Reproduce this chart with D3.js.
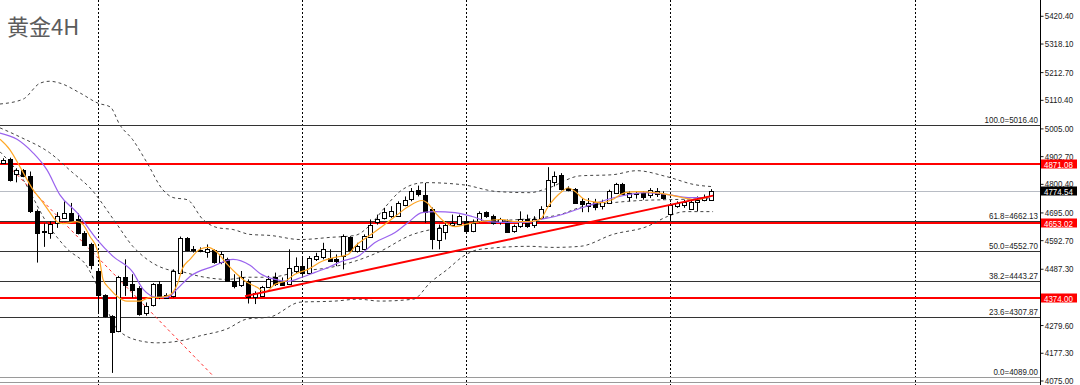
<!DOCTYPE html>
<html>
<head>
<meta charset="utf-8">
<script src="https://cdn.jsdelivr.net/npm/d3@7"></script>
<style>
  body { margin: 0; background: #fff; }
  svg { display: block; font-family: "Liberation Sans", Arial, sans-serif; }
</style>
</head>
<body>
<svg id="chart"></svg>
<script>
// 4H gold candles, one entry per bar
const opens  = [4877,4892,4834,4850,4828,4702,4621,4620,4657,4675,4693,4669,4620,4577,4479,4390,4314,4255,4457,4430,
                4418,4324,4351,4430,4381,4387,4473,4599,4559,4555,4547,4555,4510,4522,4442,4424,4442,4384,4387,4420,
                4455,4440,4433,4478,4497,4473,4522,4528,4528,4522,4534,4604,4552,4559,4607,4657,4675,4681,4683,4724,
                4742,4776,4761,4706,4595,4626,4650,4650,4663,4626,4663,4696,4681,4659,4657,4626,4644,4671,4650,4675,
                4718,4809,4834,4785,4782,4736,4720,4732,4718,4730,4767,4801,4754,4764,4767,4757,4761,4764,4691,4718,
                4724,4708,4736,4742,4742];
const highs  = [4895,4897,4858,4855,4846,4706,4654,4663,4696,4736,4730,4691,4626,4583,4485,4393,4316,4461,4522,4467,
                4423,4363,4434,4442,4397,4485,4606,4604,4571,4566,4577,4559,4551,4528,4467,4479,4448,4404,4424,4461,
                4473,4455,4559,4529,4528,4534,4546,4583,4559,4540,4614,4607,4583,4614,4669,4687,4712,4718,4736,4754,
                4785,4794,4804,4713,4650,4663,4687,4687,4675,4669,4699,4699,4687,4675,4669,4650,4699,4687,4681,4718,
                4862,4846,4840,4791,4785,4748,4748,4745,4742,4779,4804,4804,4773,4773,4773,4785,4785,4773,4730,4736,
                4742,4742,4754,4761,4781];
const lows   = [4874,4809,4806,4825,4693,4510,4568,4598,4638,4675,4663,4614,4571,4485,4320,4308,4103,4253,4387,4381,
                4314,4314,4348,4375,4379,4381,4467,4552,4547,4548,4528,4506,4504,4440,4415,4420,4359,4357,4384,4418,
                4424,4428,4430,4472,4461,4469,4516,4522,4513,4497,4485,4552,4547,4555,4602,4650,4669,4675,4681,4718,
                4736,4754,4657,4559,4559,4595,4644,4647,4620,4622,4657,4675,4650,4650,4620,4620,4638,4638,4638,4669,
                4715,4791,4776,4773,4730,4696,4696,4703,4706,4727,4764,4761,4736,4746,4742,4748,4752,4742,4663,4712,
                4712,4706,4699,4736,4740];
const closes = [4889,4816,4850,4828,4699,4620,4625,4654,4681,4693,4666,4617,4574,4500,4390,4314,4255,4455,4428,4409,
                4323,4351,4430,4387,4391,4479,4602,4555,4555,4553,4559,4510,4540,4442,4424,4455,4384,4399,4420,4448,
                4430,4430,4491,4497,4473,4528,4534,4559,4518,4513,4607,4555,4571,4607,4650,4669,4696,4699,4730,4742,
                4773,4761,4699,4595,4639,4650,4657,4681,4626,4657,4693,4683,4657,4669,4622,4644,4669,4647,4671,4708,
                4813,4830,4782,4776,4732,4724,4730,4715,4732,4773,4801,4764,4767,4768,4752,4776,4773,4748,4724,4730,
                4735,4732,4742,4752,4774.54];

// indicator lines as [bar index, price]
const maFast = [[-0.4,4965],[1.07,4926],[2.54,4863],[4.45,4779],[5.92,4731],[6.95,4694],[7.97,4661],[8.85,4654],
  [10.91,4661],[11.79,4650],[12.82,4606],[13.85,4559],[14.29,4511],[14.73,4448],[15.76,4412],[16.78,4386],
  [18.25,4368],[20.16,4368],[21.63,4382],[23.1,4382],[24.13,4386],[25.01,4401],[25.74,4437],[26.33,4485],
  [27.5,4522],[28.97,4559],[30.15,4566],[31.47,4548],[32.94,4504],[34.41,4467],[35.87,4437],[37.34,4419],
  [38.52,4401],[39.99,4430],[41.46,4441],[42.92,4467],[44.83,4485],[46.89,4515],[48.8,4529],[50.71,4540],
  [51.73,4570],[53.64,4606],[55.7,4643],[57.61,4680],[59.52,4716],[61.57,4739],[62.31,4731],[63.49,4694],
  [64.96,4658],[66.43,4643],[67.9,4650],[69.37,4658],[71.28,4665],[73.33,4669],[75.24,4661],[77.15,4661],
  [78.9,4669],[80.07,4716],[82.13,4772],[83.01,4786],[84.04,4772],[85.51,4742],[88.0,4731],[89.47,4742],
  [91.38,4768],[93.29,4772],[95.79,4768],[97.7,4761],[99.75,4750],[101.66,4742],[103.86,4753]];
const maSlow = [[-0.4,4988],[2.1,4965],[4.45,4915],[6.5,4852],[8.4,4760],[10.91,4694],[13.85,4595],[16.2,4533],
  [19.13,4474],[20.6,4412],[22.66,4382],[24.13,4382],[25.59,4412],[27.5,4459],[30.88,4496],[33.82,4522],
  [36.31,4500],[37.78,4470],[39.99,4448],[41.9,4441],[43.95,4456],[45.86,4474],[47.77,4492],[49.82,4515],
  [52.17,4533],[54.67,4584],[57.61,4621],[59.52,4658],[61.57,4694],[63.49,4698],[66.43,4694],[68.93,4680],
  [71.28,4661],[73.33,4658],[75.24,4658],[77.15,4658],[78.9,4669],[81.1,4680],[85.51,4716],[90.35,4753],
  [94.32,4768],[97.7,4761],[100.63,4750],[103.86,4750]];
const bbUpper = [[-0.4,5095],[3.0,5113],[5.5,5172],[6.9,5179],[8.4,5172],[11.4,5135],[14.0,5098],[15.8,5084],
  [17.2,5018],[19.1,4963],[21.2,4878],[23.5,4779],[25.0,4750],[27.1,4742],[29.4,4669],[31.5,4639],[33.8,4632],
  [36.3,4614],[39.3,4610],[43.7,4595],[48.1,4603],[51.7,4610],[54.0,4650],[56.1,4713],[58.3,4772],[60.1,4797],
  [62.0,4805],[67.6,4797],[72.6,4772],[77.4,4768],[79.9,4783],[84.8,4830],[89.5,4834],[93.1,4849],[97.5,4827],
  [101.7,4797],[104.3,4790]];
const bbMiddle = [[-0.4,5007],[2.5,4974],[6.9,4915],[10.3,4841],[12.8,4786],[16.5,4661],[19.1,4570],[21.2,4522],
  [24.1,4485],[26.0,4478],[29.0,4459],[33.0,4448],[35.9,4456],[39.2,4456],[43.7,4478],[48.1,4492],[51.7,4515],
  [55.4,4551],[59.8,4610],[64.2,4639],[68.6,4661],[73.0,4665],[77.4,4672],[81.8,4687],[85.1,4716],[89.6,4731],
  [93.6,4739],[97.6,4742],[104.3,4746]];
const bbLower = [[-0.4,4919],[2.5,4835],[6.9,4640],[9.4,4562],[12.4,4495],[14.3,4400],[16.8,4265],[20.2,4221],
  [22.7,4214],[26.0,4221],[29.0,4240],[32.9,4265],[35.9,4302],[39.2,4309],[43.7,4364],[48.8,4368],[52.2,4375],
  [55.4,4368],[60.3,4375],[62.8,4437],[65.3,4485],[67.6,4533],[70.1,4559],[77.4,4570],[80.8,4566],[84.8,4570],
  [89.6,4614],[94.6,4643],[97.6,4680],[100.2,4698],[104.3,4698]];

// trend lines [bar index, price]
const trendUp   = [[35.58,4386],[104.3,4757]];
const trendDown = [[1.5,4850],[30.9,4092]];

// horizontal levels
const fibLevels  = [100.0, 61.8, 50.0, 38.2, 23.6, 0.0];
const fibPrices  = [5016.40, 4662.13, 4552.70, 4443.27, 4307.87, 4089.00];
const redLevels  = [4871.08, 4653.02, 4374.00];
const lastPrice  = 4774.54;
const separators = [14, 44, 68, 98, 134];
const priceTicks = [5420.40, 5318.10, 5212.70, 5110.40, 5005.00, 4902.70, 4800.40, 4695.00,
                    4592.70, 4487.30, 4279.60, 4177.30, 4075.00];

const W = 1080, H = 385, plotRight = 1040;
const squeeze = "scale(0.84,1)"; // narrow terminal-style digits
const svg = d3.select("#chart").attr("width", W).attr("height", H);

const x = d3.scaleLinear().domain([0, 152.3]).range([2.7, plotRight]);
const y = d3.scaleLinear().domain([4075.00, 5420.40]).range([380.5, 15.8]);
const px = v => Math.round(v) + 0.5;

// title
svg.append("text").attr("x", 7).attr("y", 35).text("黄金4H")
  .attr("font-family", "'Noto Sans CJK SC', sans-serif").attr("font-size", 22).attr("fill", "#5c5c5c");

// week separators
svg.append("g").selectAll("line").data(separators).join("line")
  .attr("x1", d => px(x(d))).attr("x2", d => px(x(d))).attr("y1", 0).attr("y2", H)
  .attr("stroke", "#000").attr("stroke-dasharray", "2,2");

// fibonacci lines + labels
const fib = svg.append("g");
fib.selectAll("line").data(fibPrices).join("line")
  .attr("x1", 0).attr("x2", plotRight).attr("y1", d => px(y(d))).attr("y2", d => px(y(d)))
  .attr("stroke", (d, i) => i === fibPrices.length - 1 ? "#9a9a9a" : "#333");
fib.selectAll("g").data(fibPrices).join("g")
  .attr("transform", d => `translate(${plotRight - 2},${Math.round(y(d)) - 2})`)
  .append("text").attr("transform", squeeze).attr("text-anchor", "end")
  .attr("font-size", 9.5).attr("fill", "#1a1a1a")
  .text((d, i) => `${fibLevels[i].toFixed(1)}=${d.toFixed(2)}`);

// last price line
svg.append("line").attr("x1", 0).attr("x2", plotRight)
  .attr("y1", px(y(lastPrice))).attr("y2", px(y(lastPrice))).attr("stroke", "#b8bcc4");

// red support / resistance
svg.append("g").selectAll("line").data(redLevels).join("line")
  .attr("x1", 0).attr("x2", plotRight).attr("y1", d => Math.round(y(d)) - 1).attr("y2", d => Math.round(y(d)) - 1)
  .attr("stroke", "#ff0000").attr("stroke-width", 2);

// bollinger bands
const line = d3.line().x(d => x(d[0])).y(d => y(d[1])).curve(d3.curveMonotoneX);
svg.append("g").selectAll("path").data([bbUpper, bbMiddle, bbLower]).join("path")
  .attr("d", line).attr("fill", "none").attr("stroke", "#444").attr("stroke-dasharray", "3,3");

// red dashed fall line
svg.append("path").attr("d", d3.line().x(d => x(d[0])).y(d => y(d[1]))(trendDown))
  .attr("fill", "none").attr("stroke", "#ff3030").attr("stroke-dasharray", "3,3");

// candles
const bars = d3.range(opens.length);
const cg = svg.append("g");
cg.selectAll("line").data(bars).join("line")
  .attr("x1", i => px(x(i))).attr("x2", i => px(x(i)))
  .attr("y1", i => y(highs[i])).attr("y2", i => y(lows[i]))
  .attr("stroke", "#000");
cg.selectAll("rect").data(bars).join("rect")
  .attr("x", i => Math.round(x(i)) - 2 + 0.5)
  .attr("y", i => Math.round(y(Math.max(opens[i], closes[i]))) + 0.5)
  .attr("width", 4)
  .attr("height", i => Math.max(1, Math.round(Math.abs(y(opens[i]) - y(closes[i])))))
  .attr("fill", i => closes[i] >= opens[i] ? "#fff" : "#000")
  .attr("stroke", "#000");

// moving averages
svg.append("path").attr("d", line(maSlow)).attr("fill", "none").attr("stroke", "#9a63ee").attr("stroke-width", 1.2);
svg.append("path").attr("d", line(maFast)).attr("fill", "none").attr("stroke", "#ffa726").attr("stroke-width", 1.2);

// rising trend line
svg.append("path").attr("d", d3.line().x(d => x(d[0])).y(d => y(d[1]))(trendUp))
  .attr("fill", "none").attr("stroke", "#ff0000").attr("stroke-width", 2);

// price axis
svg.append("rect").attr("x", plotRight + 1).attr("y", 0).attr("width", W - plotRight).attr("height", H).attr("fill", "#fff");
const axis = svg.append("g").attr("transform", `translate(${plotRight + 0.5},0)`)
  .call(d3.axisRight(y).tickValues(priceTicks).tickSize(3).tickPadding(2).tickFormat(d3.format(".2f")));
axis.select(".domain").remove();
axis.selectAll("text").attr("font-size", 9.5).attr("fill", "#1a1a1a")
  .attr("font-family", "'Liberation Sans', Arial").attr("transform", squeeze);
axis.selectAll("line").attr("stroke", "#222");
svg.append("line").attr("x1", plotRight + 0.5).attr("x2", plotRight + 0.5).attr("y1", 0).attr("y2", H).attr("stroke", "#000");
svg.append("line").attr("x1", 0).attr("x2", plotRight).attr("y1", 382.5).attr("y2", 382.5).attr("stroke", "#9a9a9a");

// price tags
const tags = redLevels.map(v => ({v, bg: "#ff0000", dy: -1})).concat([{v: lastPrice, bg: "#000", dy: 0}]);
const tg = svg.append("g").selectAll("g").data(tags).join("g")
  .attr("transform", d => `translate(${plotRight + 1},${Math.round(y(d.v)) - 4.5 + d.dy})`);
tg.append("rect").attr("width", 36).attr("height", 9).attr("fill", d => d.bg);
tg.append("g").attr("transform", "translate(3,8)")
  .append("text").attr("transform", squeeze).attr("font-size", 9.5).attr("fill", "#fff")
  .text(d => d.v.toFixed(2));
</script>
</body>
</html>
